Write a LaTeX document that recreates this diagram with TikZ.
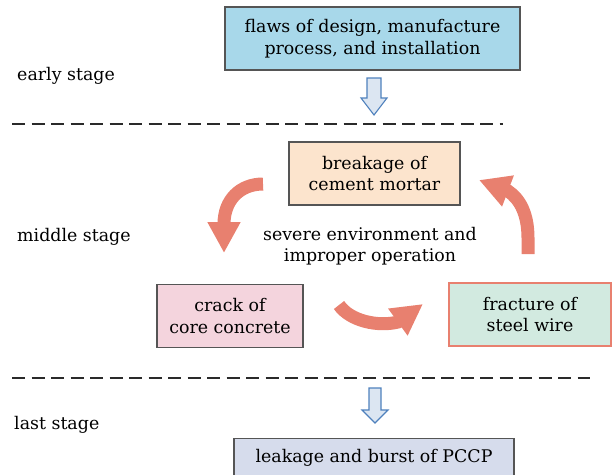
\documentclass[tikz,border=0pt]{standalone}
\usepackage{fontspec}
\setmainfont{DejaVu Serif}
\usetikzlibrary{arrows.meta}
\definecolor{topfill}{HTML}{A8D8EA}
\definecolor{peach}{HTML}{FCE4CD}
\definecolor{pinkfill}{HTML}{F4D4DD}
\definecolor{mint}{HTML}{D2EAE0}
\definecolor{lav}{HTML}{D6DCEC}
\definecolor{cyc}{HTML}{E8806F}
\definecolor{boxline}{HTML}{555555}
\definecolor{hfill}{HTML}{DCE6F2}
\definecolor{hline}{HTML}{4F81BD}
\definecolor{sepgray}{HTML}{2A2A2A}
\begin{document}
\begin{tikzpicture}[x=1pt,y=-1pt,
  txt/.style={font=\fontsize{17.4}{21.5}\selectfont},
  box/.style={txt, draw=boxline, line width=1.1pt, minimum height=63pt,
    align=center, inner sep=0pt},
  lbl/.style={txt, anchor=west, inner sep=0pt},
  cycarrow/.style={draw=cyc, line width=13pt, line cap=butt,
    -{Triangle[length=31pt,width=31pt]}},
  stagesep/.style={draw=sepgray, line width=2pt, dash pattern=on 13pt off 6.5pt},
  hollow/.style={draw=hline, fill=hfill, line width=1.1pt, line join=miter}
]
\clip (0,0) rectangle (612,474);

% stage labels
\node[lbl] (early)  at (17,76)  {early stage};
\node[lbl] (middle) at (17,237) {middle stage};
\node[lbl] (last)   at (14,425) {last stage};

% boxes
\node[box, fill=topfill, minimum width=295pt] (flaws) at (372.5,38.5)
  {flaws of design, manufacture\\process, and installation};
\node[box, fill=peach, minimum width=171pt] (mortar) at (374.5,173.5)
  {breakage of\\cement mortar};
\node[box, fill=pinkfill, minimum width=146pt] (concrete) at (230,316)
  {crack of\\core concrete};
\node[box, fill=mint, draw=cyc, minimum width=162pt] (wire) at (530,314.5)
  {fracture of\\steel wire};
\node[box, fill=lav, minimum width=280pt, minimum height=38pt, anchor=north]
  (burst) at (374,438) {leakage and burst of PCCP};

% central cause
\node[txt, align=center, inner sep=0pt] (cause) at (370,246)
  {severe environment and\\improper operation};

% stage separators
\coordinate (s1a) at (12,124);
\coordinate (s1b) at (503,124);
\coordinate (s2a) at (12,378);
\coordinate (s2b) at (590,378);
\draw[stagesep] (s1a) -- (s1b);
\draw[stagesep] (s2a) -- (s2b);

% hollow arrows between stages
\coordinate (h1) at (374,78);
\coordinate (h2) at (375,388);
\draw[hollow] (h1) +(-7,0) -- +(-7,20) -- +(-13,20) -- +(0,37)
  -- +(13,20) -- +(7,20) -- +(7,0) -- cycle;
\draw[hollow] (h2) +(-6,0) -- +(-6,22) -- +(-13,22) -- +(0,35)
  -- +(13,22) -- +(6,22) -- +(6,0) -- cycle;

% damage cycle
\coordinate (c1s) at (263,184);
\coordinate (c1e) at (224,253);
\draw[cycarrow] (c1s) .. controls (240,184) and (224,200) .. (224,224) -- (c1e);
\coordinate (c2s) at (339,305);
\coordinate (c2e) at (423,304);
\draw[cycarrow] (c2s) .. controls (350,321) and (378,327) .. (398,322) -- (c2e);
\coordinate (c3s) at (528,254);
\coordinate (c3e) at (479,180);
\draw[cycarrow] (c3s) -- (528,238) .. controls (528,214) and (520,199) .. (508,191) -- (c3e);
\end{tikzpicture}
\end{document}
